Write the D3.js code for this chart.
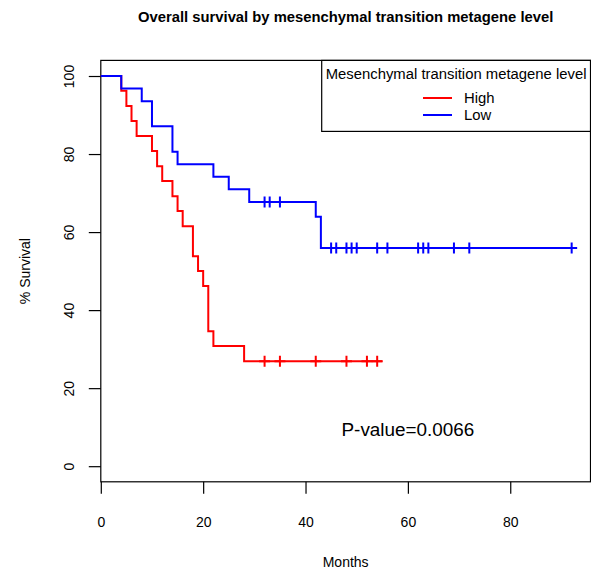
<!DOCTYPE html>
<html><head><meta charset="utf-8">
<script src="https://cdn.jsdelivr.net/npm/d3@7"></script>
<style>
html,body{margin:0;padding:0;background:#fff;}
text{font-family:"Liberation Sans",Arial,Helvetica,sans-serif;fill:#000;}
</style></head>
<body>
<svg id="chart" width="591" height="571"></svg>
<script>
const chartTitle = "Overall survival by mesenchymal transition metagene level";
const xTitle = "Months";
const yTitle = "% Survival";
const legendTitle = "Mesenchymal transition metagene level";
const seriesNames = ["High", "Low"];
const seriesColors = ["#ff0000", "#0000ff"];
const pValueText = "P-value=0.0066";
const xTicks = [0, 20, 40, 60, 80];
const yTicks = [0, 20, 40, 60, 80, 100];

const highTimes = [0, 4, 5, 6, 7, 10, 11, 12, 14, 15, 16, 18, 19, 20, 21, 22, 28, 55];
const highSurv  = [100, 96.2, 92.3, 88.5, 84.6, 80.8, 76.9, 73.1, 69.2, 65.4, 61.5, 53.8, 50.0, 46.2, 34.6, 30.8, 26.9, 26.9];
const highCensor = [32, 35, 42, 48, 52, 54];

const lowTimes = [0, 4, 8, 10, 14, 15, 22, 25, 29, 42, 43, 92];
const lowSurv  = [100, 96.8, 93.5, 87.1, 80.6, 77.4, 74.2, 71.0, 67.7, 63.9, 55.9, 55.9];
const lowCensor = [32, 33, 35, 45, 46, 48, 49, 50, 54, 56, 62, 63, 64, 69, 72, 92];

(function () {
const svg = d3.select("#chart");
const pl = 100.8, pr = 590.5, pt = 60.4, pb = 481.8;
const x = d3.scaleLinear().domain([0, 92 * 1.04]).range([pl, pr]);
const y = d3.scaleLinear().domain([-4, 104]).range([pb, pt]);

// box
svg.append("rect").attr("x", pl).attr("y", pt)
  .attr("width", pr - pl).attr("height", pb - pt)
  .attr("fill", "none").attr("stroke", "#000").attr("stroke-width", 1.2);

// x axis
const xa = svg.append("g").attr("transform", `translate(0,${pb})`)
  .call(d3.axisBottom(x).tickValues(xTicks).tickSize(12).tickPadding(23).tickFormat(d3.format("d")));
xa.select(".domain").remove();
xa.selectAll("line").attr("stroke-width", 1.2);
xa.selectAll("text").attr("font-size", 14).attr("font-family", "Liberation Sans, Arial, sans-serif");

// y axis
const ya = svg.append("g").attr("transform", `translate(${pl},0)`)
  .call(d3.axisLeft(y).tickValues(yTicks).tickSize(12).tickFormat(d3.format("d")));
ya.select(".domain").remove();
ya.selectAll("line").attr("stroke-width", 1.2);
ya.selectAll("text").remove();
ya.selectAll(".tick").append("text")
  .attr("transform", "translate(-32,0) rotate(-90)")
  .attr("text-anchor", "middle").attr("dy", "0.35em")
  .attr("font-size", 14).attr("fill", "#000")
  .attr("font-family", "Liberation Sans, Arial, sans-serif")
  .text(d => d);

// titles
svg.append("text").attr("x", (pl + pr) / 2).attr("y", 22)
  .attr("text-anchor", "middle").attr("font-size", 14.8).attr("font-weight", "bold").text(chartTitle);
svg.append("text").attr("x", (pl + pr) / 2).attr("y", 567)
  .attr("text-anchor", "middle").attr("font-size", 14).text(xTitle);
svg.append("text").attr("transform", `translate(30,${(pt + pb) / 2}) rotate(-90)`)
  .attr("text-anchor", "middle").attr("font-size", 14).text(yTitle);

// curves
const line = d3.line().x(d => x(d[0])).y(d => y(d[1])).curve(d3.curveStepAfter);
const series = [
  {times: highTimes, surv: highSurv, cens: highCensor, color: seriesColors[0]},
  {times: lowTimes, surv: lowSurv, cens: lowCensor, color: seriesColors[1]}
];
function survAt(s, t) {
  let v = s.surv[0];
  for (let i = 0; i < s.times.length; i++) if (s.times[i] <= t) v = s.surv[i];
  return v;
}
series.forEach(s => {
  const pts = s.times.map((t, i) => [t, s.surv[i]]);
  svg.append("path").attr("d", line(pts)).attr("fill", "none")
    .attr("stroke", s.color).attr("stroke-width", 2);
  svg.selectAll(null).data(s.cens).enter().append("path")
    .attr("d", t => {
      const cx = x(t), cy = y(survAt(s, t)), r = 5.5;
      return `M${cx},${cy - r}V${cy + r}M${cx - r},${cy}H${cx + r}`;
    })
    .attr("stroke", s.color).attr("stroke-width", 2).attr("fill", "none");
});

// legend
const lgX = 321.7, lgY = pt, lgW = pr - lgX, lgH = 71;
svg.append("rect").attr("x", lgX).attr("y", lgY).attr("width", lgW).attr("height", lgH)
  .attr("fill", "#fff").attr("stroke", "#000").attr("stroke-width", 1.2);
svg.append("text").attr("x", lgX + lgW / 2).attr("y", 79)
  .attr("text-anchor", "middle").attr("font-size", 14.85).text(legendTitle);
seriesNames.forEach((n, i) => {
  const yy = 98 + i * 17;
  svg.append("line").attr("x1", 423).attr("x2", 452).attr("y1", yy).attr("y2", yy)
    .attr("stroke", seriesColors[i]).attr("stroke-width", 2);
  svg.append("text").attr("x", 464).attr("y", yy).attr("dy", "0.35em")
    .attr("font-size", 14.85).text(n);
});

// p-value
svg.append("text").attr("x", 341.5).attr("y", 436).attr("font-size", 18.9).text(pValueText);
})();
</script>
</body></html>
